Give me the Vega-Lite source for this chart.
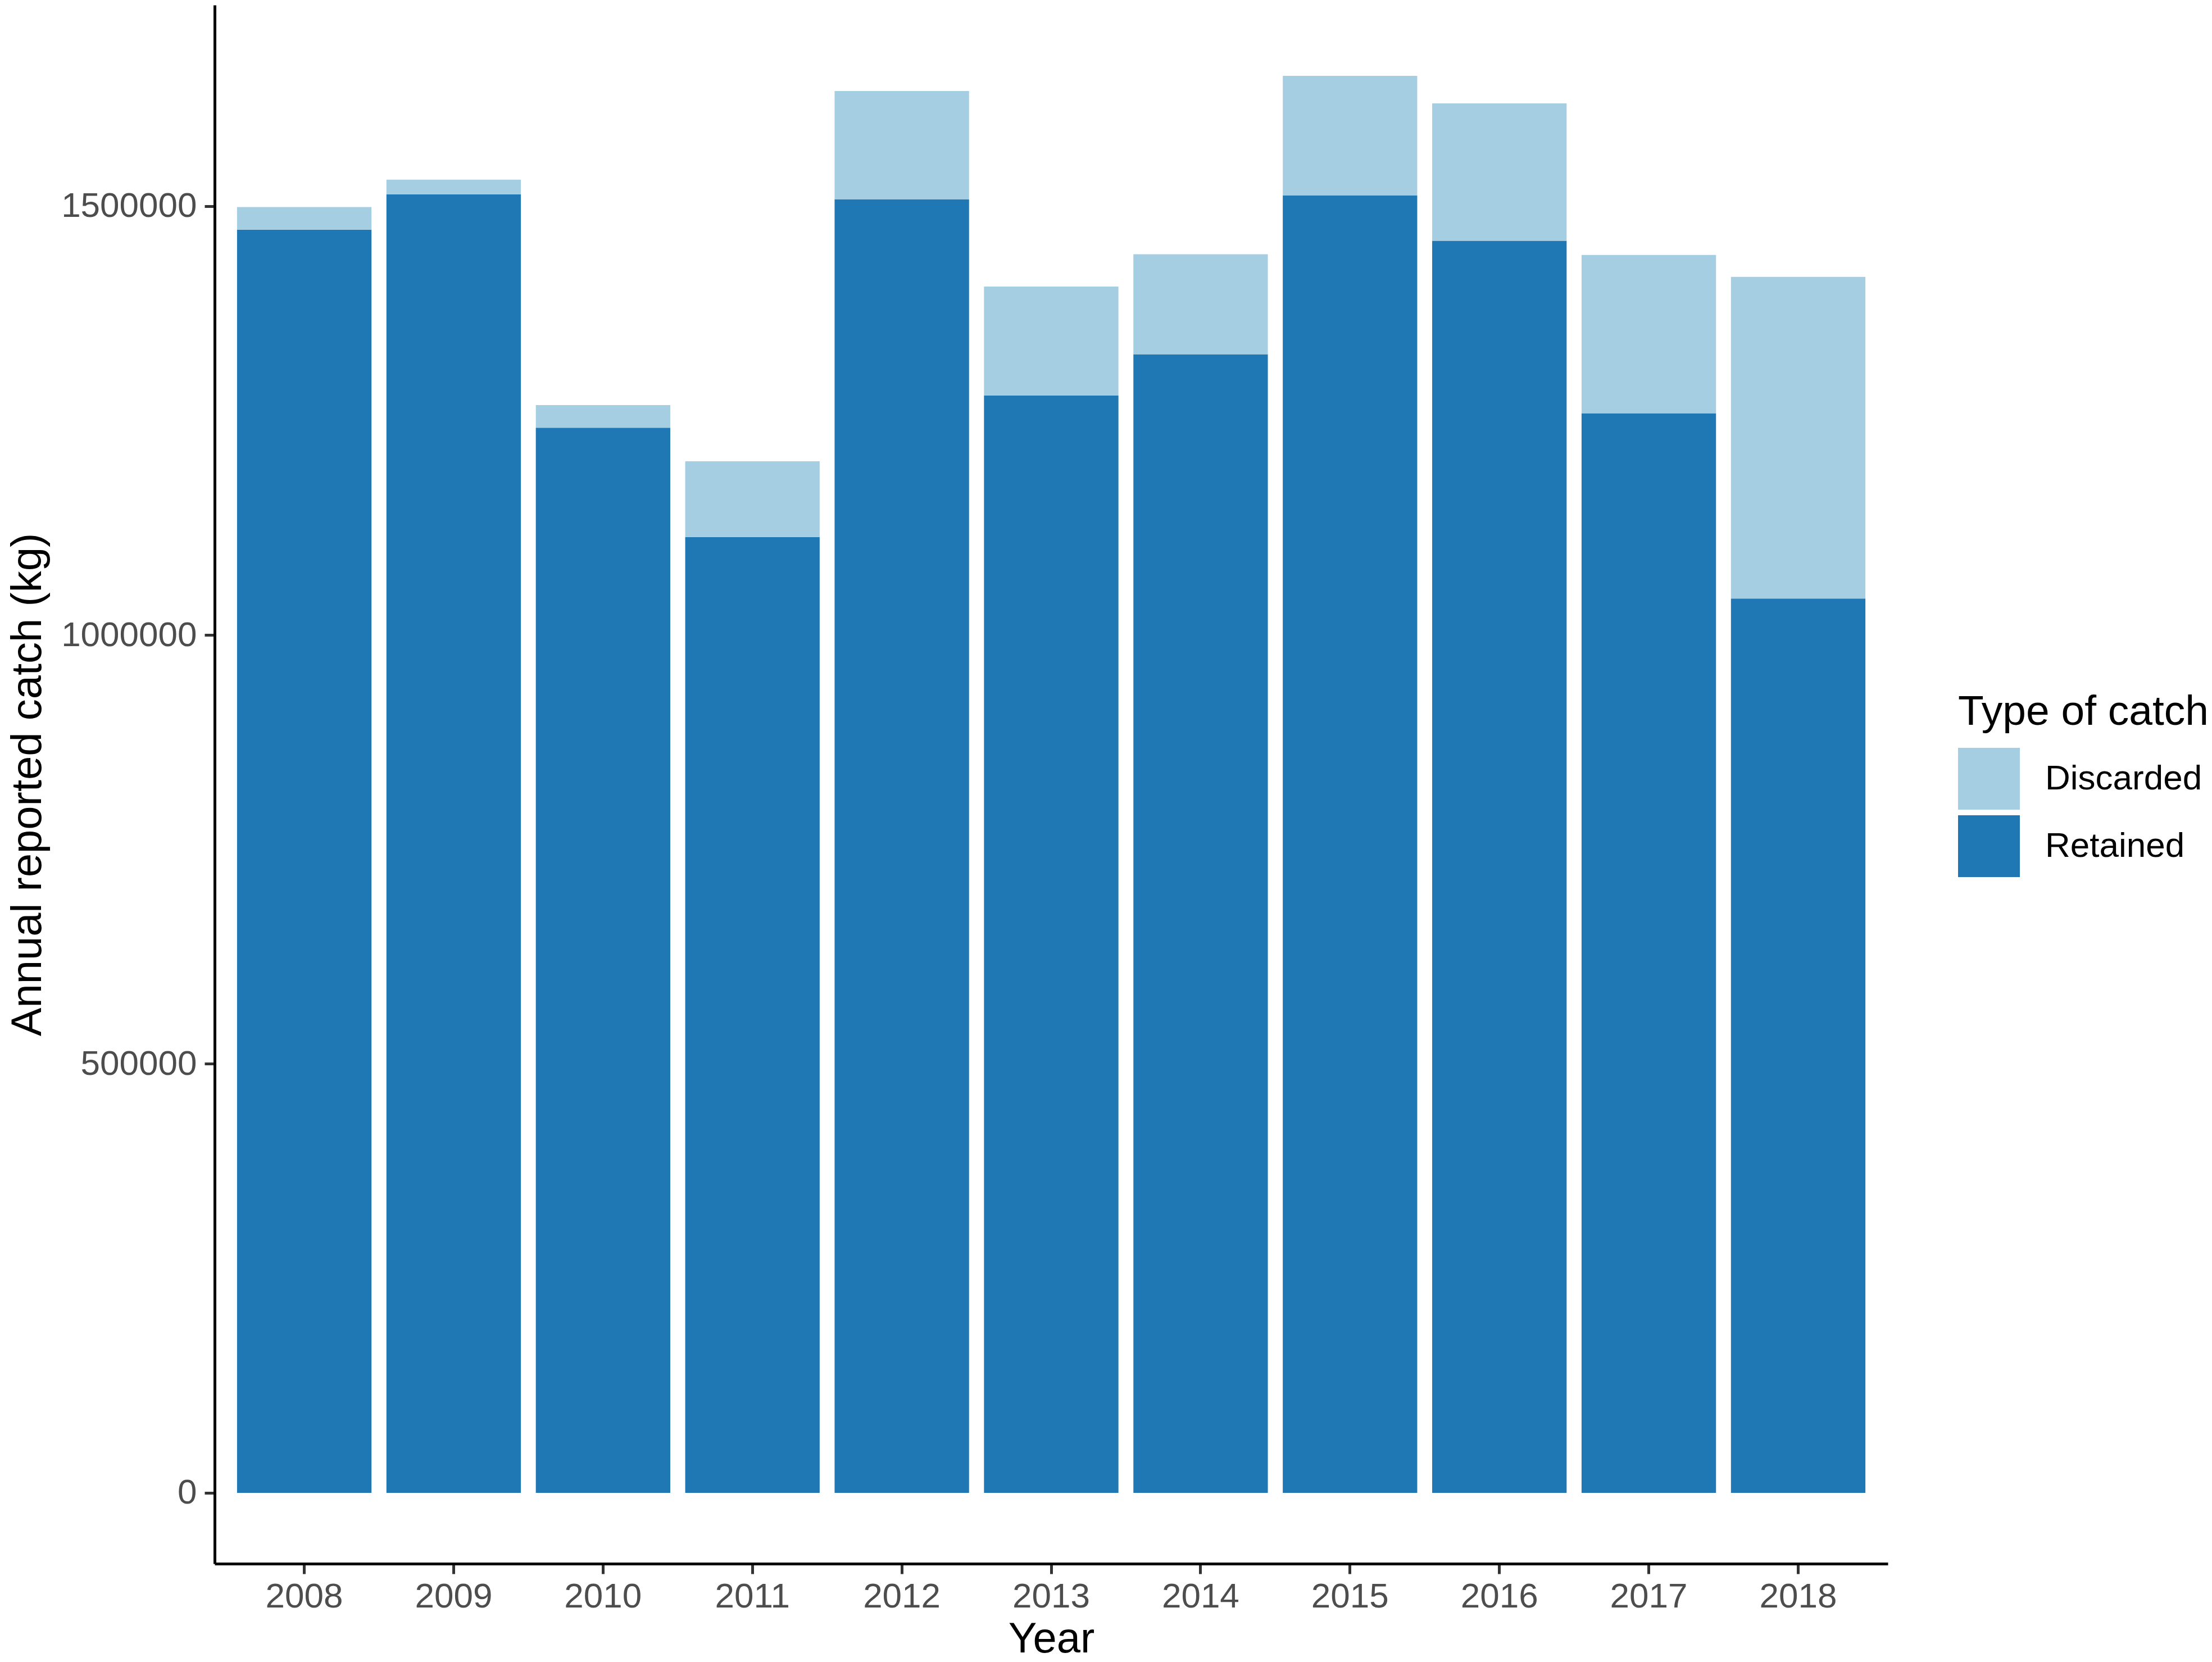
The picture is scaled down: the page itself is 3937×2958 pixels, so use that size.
{
  "$schema": "https://vega.github.io/schema/vega-lite/v6.json",
  "autosize": "none",
  "width": 2978,
  "height": 2774,
  "padding": {"left": 382, "top": 9, "right": 577, "bottom": 175},
  "background": "white",
  "config": {
    "font": "Liberation Sans",
    "view": {"stroke": null},
    "axis": {
      "grid": false,
      "domainColor": "black",
      "domainWidth": 5,
      "tickColor": "#333333",
      "tickWidth": 5,
      "tickSize": 18,
      "labelFont": "Liberation Sans",
      "labelFontSize": 62,
      "labelColor": "#4d4d4d",
      "labelLimit": 0,
      "titleFont": "Liberation Sans",
      "titleFontSize": 76,
      "titleFontWeight": "normal",
      "titleColor": "black",
      "titleLimit": 0
    },
    "legend": {
      "layout": {"right": {"anchor": "middle"}}
    }
  },
  "data": {
    "values": [
      {"year": "2008", "type": "Retained", "catch": 1472300},
      {"year": "2008", "type": "Discarded", "catch": 26400},
      {"year": "2009", "type": "Retained", "catch": 1513700},
      {"year": "2009", "type": "Discarded", "catch": 17000},
      {"year": "2010", "type": "Retained", "catch": 1241500},
      {"year": "2010", "type": "Discarded", "catch": 26300},
      {"year": "2011", "type": "Retained", "catch": 1114100},
      {"year": "2011", "type": "Discarded", "catch": 88300},
      {"year": "2012", "type": "Retained", "catch": 1507600},
      {"year": "2012", "type": "Discarded", "catch": 126300},
      {"year": "2013", "type": "Retained", "catch": 1279100},
      {"year": "2013", "type": "Discarded", "catch": 127000},
      {"year": "2014", "type": "Retained", "catch": 1327200},
      {"year": "2014", "type": "Discarded", "catch": 116500},
      {"year": "2015", "type": "Retained", "catch": 1512100},
      {"year": "2015", "type": "Discarded", "catch": 139500},
      {"year": "2016", "type": "Retained", "catch": 1459500},
      {"year": "2016", "type": "Discarded", "catch": 160100},
      {"year": "2017", "type": "Retained", "catch": 1258300},
      {"year": "2017", "type": "Discarded", "catch": 184600},
      {"year": "2018", "type": "Retained", "catch": 1042400},
      {"year": "2018", "type": "Discarded", "catch": 375000}
    ]
  },
  "mark": {"type": "bar"},
  "encoding": {
    "x": {
      "field": "year",
      "type": "ordinal",
      "title": "Year",
      "scale": {"paddingInner": 0.1, "paddingOuter": 0.15},
      "axis": {"labelAngle": 0, "labelPadding": 10, "titlePadding": 8}
    },
    "y": {
      "field": "catch",
      "type": "quantitative",
      "title": "Annual reported catch (kg)",
      "stack": "zero",
      "scale": {"domain": [-82580, 1734180], "nice": false, "zero": false},
      "axis": {"values": [0, 500000, 1000000, 1500000], "format": "d", "labelPadding": 14, "titleX": -294}
    },
    "color": {
      "field": "type",
      "type": "nominal",
      "title": "Type of catch",
      "scale": {"domain": ["Discarded", "Retained"], "range": ["#a6cee3", "#1f78b4"]},
      "legend": {
        "orient": "right",
        "offset": 125,
        "padding": 0,
        "symbolType": "square",
        "symbolSize": 12100,
        "symbolStrokeWidth": 0,
        "symbolOpacity": 1,
        "rowPadding": 10,
        "labelOffset": 45,
        "labelFontSize": 62,
        "labelColor": "black",
        "labelLimit": 0,
        "titleFontSize": 75,
        "titleFontWeight": "normal",
        "titleColor": "black",
        "titleLimit": 0,
        "titlePadding": 25
      }
    },
    "order": {"field": "type", "sort": "descending"}
  }
}
